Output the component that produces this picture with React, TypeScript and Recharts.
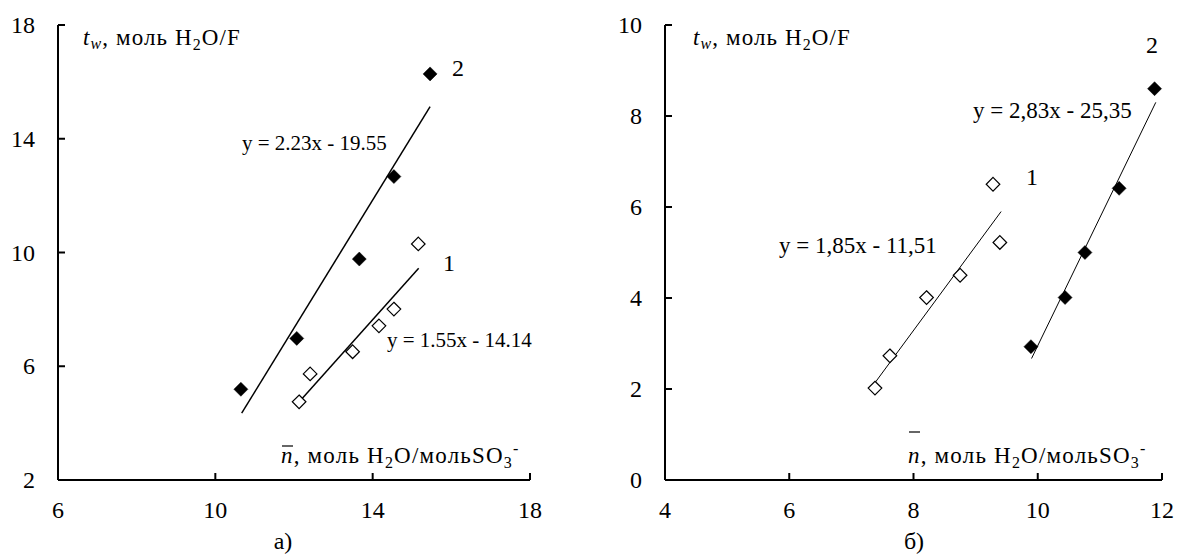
import React from 'react';
import { ScatterChart, Scatter, XAxis, YAxis } from 'recharts';

const FONT = "'Liberation Serif', 'Times New Roman', Tinos, 'DejaVu Serif', serif";

// ---- Chart а) ----
const xTicksA = [6, 10, 14, 18];
const yTicksA = [2, 6, 10, 14, 18];
const nA1 = [12.13, 12.41, 13.49, 14.16, 14.54, 15.16];
const tA1 = [4.75, 5.73, 6.51, 7.42, 8.01, 10.3];
const nA2 = [10.65, 12.07, 13.66, 14.54, 15.46];
const tA2 = [5.19, 6.98, 9.77, 12.67, 16.28];
const trendA1X = [12.1, 15.17];
const trendA1Y = [4.7, 9.45];
const trendA2X = [10.67, 15.46];
const trendA2Y = [4.35, 15.13];

// ---- Chart б) ----
const xTicksB = [4, 6, 8, 10, 12];
const yTicksB = [0, 2, 4, 6, 8, 10];
const nB1 = [7.38, 7.62, 8.21, 8.75, 9.28, 9.39];
const tB1 = [2.02, 2.73, 4.01, 4.5, 6.5, 5.22];
const nB2 = [9.89, 10.44, 10.76, 11.31, 11.88];
const tB2 = [2.93, 4.01, 5.0, 6.41, 8.6];
const trendB1X = [7.36, 9.41];
const trendB1Y = [2.1, 5.9];
const trendB2X = [9.9, 11.9];
const trendB2Y = [2.67, 8.3];

const pts = (xs: number[], ys: number[]) => xs.map((x, i) => ({ x, y: ys[i] }));

const fontStyle = { fontFamily: FONT };

const YTick = (props: any) => {
  const { x, y, payload } = props;
  return (
    <g>
      <line x1={x} y1={y} x2={x + 7} y2={y} stroke="#000" strokeWidth={2} />
      <text x={x - 23} y={y + 8} textAnchor="end" style={fontStyle} fontSize={24} fill="#000">
        {payload.value}
      </text>
    </g>
  );
};

const XTick = (props: any) => {
  const { x, y, payload } = props;
  return (
    <g>
      <line x1={x} y1={y} x2={x} y2={y - 7} stroke="#000" strokeWidth={2} />
      <text x={x} y={y + 38} textAnchor="middle" style={fontStyle} fontSize={24} fill="#000">
        {payload.value}
      </text>
    </g>
  );
};

const FilledDiamond = (props: any) => {
  const { cx, cy } = props;
  const h = 7;
  return <polygon points={`${cx},${cy - h} ${cx + h},${cy} ${cx},${cy + h} ${cx - h},${cy}`} fill="#000" stroke="#000" strokeWidth={0.5} />;
};

const OpenDiamond = (props: any) => {
  const { cx, cy } = props;
  const h = 6.8;
  return <polygon points={`${cx},${cy - h} ${cx + h},${cy} ${cx},${cy + h} ${cx - h},${cy}`} fill="#fff" stroke="#000" strokeWidth={1.2} />;
};

const NoShape = () => <g />;

const axisLineStyle = { stroke: '#000', strokeWidth: 2 };

type PanelProps = {
  width: number;
  margin: any;
  xDomain: [number, number];
  yDomain: [number, number];
  xTicks: number[];
  yTicks: number[];
  open: { x: number; y: number }[];
  filled: { x: number; y: number }[];
  t1: { x: number; y: number }[];
  t2: { x: number; y: number }[];
  lineWidth: number;
};

const Panel = (p: PanelProps) => (
  <ScatterChart width={p.width} height={555} margin={p.margin}>
    <XAxis
      type="number"
      dataKey="x"
      domain={p.xDomain}
      ticks={p.xTicks}
      interval={0}
      height={75}
      axisLine={axisLineStyle}
      tickLine={false}
      tickSize={0}
      tickMargin={0}
      tick={<XTick />}
    />
    <YAxis
      type="number"
      dataKey="y"
      domain={p.yDomain}
      ticks={p.yTicks}
      interval={0}
      width={50}
      axisLine={axisLineStyle}
      tickLine={false}
      tickSize={0}
      tickMargin={0}
      tick={<YTick />}
    />
    <Scatter data={p.t1} line={{ stroke: '#000', strokeWidth: p.lineWidth }} shape={NoShape} isAnimationActive={false} />
    <Scatter data={p.t2} line={{ stroke: '#000', strokeWidth: p.lineWidth }} shape={NoShape} isAnimationActive={false} />
    <Scatter data={p.filled} shape={FilledDiamond} isAnimationActive={false} />
    <Scatter data={p.open} shape={OpenDiamond} isAnimationActive={false} />
  </ScatterChart>
);

const T = (props: any) => <text style={fontStyle} fill="#000" {...props} />;

const Title = ({ x, y }: { x: number; y: number }) => (
  <T x={x} y={y} fontSize={23} letterSpacing={1.1}>
    <tspan fontStyle="italic">t</tspan>
    <tspan fontStyle="italic" fontSize={16} dy={4}>w</tspan>
    <tspan dy={-4}>, моль H</tspan>
    <tspan fontSize={16} dy={5}>2</tspan>
    <tspan dy={-5}>O/F</tspan>
  </T>
);

const XTitle = ({ x, y }: { x: number; y: number }) => (
  <T x={x} y={y} fontSize={23} letterSpacing={1.2}>
    <tspan fontStyle="italic">n</tspan>
    <tspan>, моль H</tspan>
    <tspan fontSize={16} dy={5}>2</tspan>
    <tspan dy={-5}>O/мольSO</tspan>
    <tspan fontSize={16} dy={5}>3</tspan>
    <tspan fontSize={16} dy={-14}>-</tspan>
  </T>
);

export default function App() {
  return (
    <div style={{ position: 'absolute', left: 0, top: 0, width: 1178, height: 555, background: '#fff', fontFamily: FONT }}>
      <div style={{ position: 'absolute', left: 0, top: 0 }}>
        <Panel
          width={600}
          margin={{ top: 25, right: 70, left: 8, bottom: 0 }}
          xDomain={[6, 18]}
          yDomain={[2, 18]}
          xTicks={xTicksA}
          yTicks={yTicksA}
          open={pts(nA1, tA1)}
          filled={pts(nA2, tA2)}
          t1={pts(trendA1X, trendA1Y)}
          t2={pts(trendA2X, trendA2Y)}
          lineWidth={1.5}
        />
      </div>
      <div style={{ position: 'absolute', left: 600, top: 0 }}>
        <Panel
          width={578}
          margin={{ top: 25, right: 16, left: 15, bottom: 0 }}
          xDomain={[4, 12]}
          yDomain={[0, 10]}
          xTicks={xTicksB}
          yTicks={yTicksB}
          open={pts(nB1, tB1)}
          filled={pts(nB2, tB2)}
          t1={pts(trendB1X, trendB1Y)}
          t2={pts(trendB2X, trendB2Y)}
          lineWidth={1}
        />
      </div>
      <svg width={1178} height={555} style={{ position: 'absolute', left: 0, top: 0, pointerEvents: 'none' }}>
        {/* Panel а) */}
        <Title x={83} y={45} />
        <T x={458} y={76} fontSize={24} textAnchor="middle">2</T>
        <T x={449} y={271} fontSize={24} textAnchor="middle">1</T>
        <T x={242} y={150} fontSize={21}>y = 2.23x - 19.55</T>
        <T x={387} y={347} fontSize={21}>y = 1.55x - 14.14</T>
        <line x1={282} y1={446} x2={293} y2={446} stroke="#000" strokeWidth={1.2} />
        <XTitle x={281} y={463} />
        <T x={283} y={549} fontSize={24} textAnchor="middle">а)</T>

        {/* Panel б) */}
        <Title x={693} y={45} />
        <T x={1152} y={53} fontSize={24} textAnchor="middle">2</T>
        <T x={1032} y={185} fontSize={24} textAnchor="middle">1</T>
        <T x={973} y={118} fontSize={23}>y = 2,83x - 25,35</T>
        <T x={779} y={253} fontSize={23}>y = 1,85x - 11,51</T>
        <line x1={909} y1={432} x2={920} y2={432} stroke="#000" strokeWidth={1.2} />
        <XTitle x={908} y={463} />
        <T x={914} y={549} fontSize={24} textAnchor="middle">б)</T>
      </svg>
    </div>
  );
}
